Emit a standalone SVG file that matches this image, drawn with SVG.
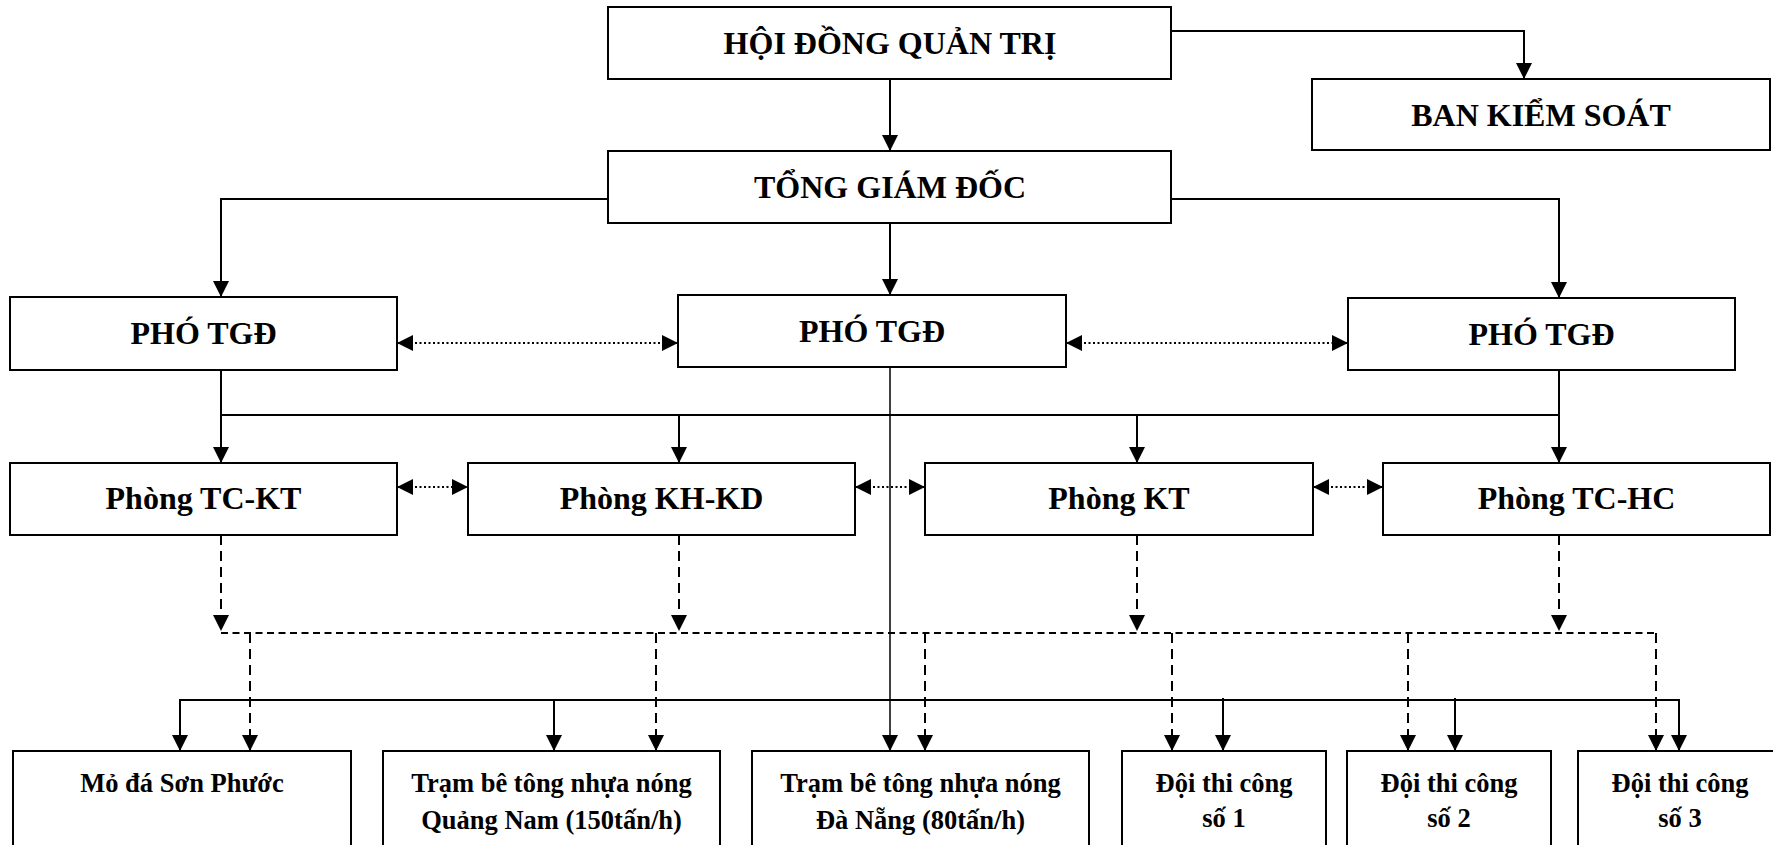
<svg xmlns="http://www.w3.org/2000/svg" width="1773" height="845" viewBox="0 0 1773 845">
  <defs>
    <marker id="arrow" viewBox="0 0 16 16" refX="16" refY="8" markerWidth="16" markerHeight="16" markerUnits="userSpaceOnUse" orient="auto-start-reverse">
      <path d="M0,0 L16,8 L0,16 Z" fill="#000"/>
    </marker>
    <style>
      .box { fill: #fff; stroke: #000; stroke-width: 2; }
      .big { font-family: "Liberation Serif", "Times New Roman", serif; font-weight: bold; font-size: 32px; text-anchor: middle; fill: #000; }
      .small { font-family: "Liberation Serif", "Times New Roman", serif; font-weight: bold; font-size: 26.5px; text-anchor: middle; fill: #000; }
      .solid { fill: none; stroke: #000; stroke-width: 2; }
      .thin { fill: none; stroke: #000; stroke-width: 1.5; }
      .dotted { fill: none; stroke: #000; stroke-width: 2; stroke-dasharray: 2 2.5; }
      .dashv { fill: none; stroke: #000; stroke-width: 2; stroke-dasharray: 10 6; }
      .dashh { fill: none; stroke: #000; stroke-width: 2; stroke-dasharray: 7 4.5; }
    </style>
  </defs>
  <rect width="1773" height="845" fill="#fff"/>

  <!-- connectors -->
  <g id="connectors">
    <!-- board to CEO and supervisory board -->
    <path class="solid" d="M890,79 V151" marker-end="url(#arrow)"/>
    <path class="solid" d="M1171,31 H1524 V79" marker-end="url(#arrow)"/>
    <!-- CEO to deputies -->
    <path class="solid" d="M608,199 H221 V297" marker-end="url(#arrow)"/>
    <path class="solid" d="M890,223 V295" marker-end="url(#arrow)"/>
    <path class="solid" d="M1171,199 H1559 V298" marker-end="url(#arrow)"/>
    <!-- coordination between deputies -->
    <path class="dotted" d="M397,343 H678" marker-start="url(#arrow)" marker-end="url(#arrow)"/>
    <path class="dotted" d="M1066,343 H1348" marker-start="url(#arrow)" marker-end="url(#arrow)"/>
    <!-- deputies to departments -->
    <path class="solid" d="M221,370 V415 H1559 V370"/>
    <path class="solid" d="M221,415 V463" marker-end="url(#arrow)"/>
    <path class="solid" d="M679,415 V463" marker-end="url(#arrow)"/>
    <path class="solid" d="M1137,415 V463" marker-end="url(#arrow)"/>
    <path class="solid" d="M1559,415 V463" marker-end="url(#arrow)"/>
    <!-- coordination between departments -->
    <path class="dotted" d="M397,487 H468" marker-start="url(#arrow)" marker-end="url(#arrow)"/>
    <path class="dotted" d="M855,487 H925" marker-start="url(#arrow)" marker-end="url(#arrow)"/>
    <path class="dotted" d="M1313,487 H1383" marker-start="url(#arrow)" marker-end="url(#arrow)"/>
    <!-- departments to the dashed guidance bus -->
    <path class="dashv" d="M221,535 V631" marker-end="url(#arrow)"/>
    <path class="dashv" d="M679,535 V631" marker-end="url(#arrow)"/>
    <path class="dashv" d="M1137,535 V631" marker-end="url(#arrow)"/>
    <path class="dashv" d="M1559,535 V631" marker-end="url(#arrow)"/>
    <path class="dashh" d="M221,633 H1656"/>
    <path class="dashv" d="M250,633 V751" marker-end="url(#arrow)"/>
    <path class="dashv" d="M656,633 V751" marker-end="url(#arrow)"/>
    <path class="dashv" d="M925,633 V751" marker-end="url(#arrow)"/>
    <path class="dashv" d="M1172,633 V751" marker-end="url(#arrow)"/>
    <path class="dashv" d="M1408,633 V751" marker-end="url(#arrow)"/>
    <path class="dashv" d="M1656,633 V751" marker-end="url(#arrow)"/>
    <!-- deputy line down to the production units -->
    <path class="thin" d="M890,367 V751" marker-end="url(#arrow)"/>
    <path class="solid" d="M180,751 V700 H1679 V751" marker-start="url(#arrow)" marker-end="url(#arrow)"/>
    <path class="solid" d="M554,700 V751" marker-end="url(#arrow)"/>
    <path class="solid" d="M1223,698 V751" marker-end="url(#arrow)"/>
    <path class="solid" d="M1455,698 V751" marker-end="url(#arrow)"/>
  </g>

  <!-- top management -->
  <g id="hdqt">
    <rect class="box" x="608" y="7" width="563" height="72"/>
    <text class="big" x="890" y="54">HỘI ĐỒNG QUẢN TRỊ</text>
  </g>
  <g id="bks">
    <rect class="box" x="1312" y="79" width="458" height="71"/>
    <text class="big" x="1541" y="126">BAN KIỂM SOÁT</text>
  </g>
  <g id="tgd">
    <rect class="box" x="608" y="151" width="563" height="72"/>
    <text class="big" x="890" y="198">TỔNG GIÁM ĐỐC</text>
  </g>

  <!-- deputies -->
  <g id="pho-tgd-1">
    <rect class="box" x="10" y="297" width="387" height="73"/>
    <text class="big" x="203.5" y="344">PHÓ TGĐ</text>
  </g>
  <g id="pho-tgd-2">
    <rect class="box" x="678" y="295" width="388" height="72"/>
    <text class="big" x="872" y="342">PHÓ TGĐ</text>
  </g>
  <g id="pho-tgd-3">
    <rect class="box" x="1348" y="298" width="387" height="72"/>
    <text class="big" x="1541.5" y="345">PHÓ TGĐ</text>
  </g>

  <!-- departments -->
  <g id="phong-tckt">
    <rect class="box" x="10" y="463" width="387" height="72"/>
    <text class="big" x="203.5" y="509">Phòng TC-KT</text>
  </g>
  <g id="phong-khkd">
    <rect class="box" x="468" y="463" width="387" height="72"/>
    <text class="big" x="661.5" y="509">Phòng KH-KD</text>
  </g>
  <g id="phong-kt">
    <rect class="box" x="925" y="463" width="388" height="72"/>
    <text class="big" x="1119" y="509">Phòng KT</text>
  </g>
  <g id="phong-tchc">
    <rect class="box" x="1383" y="463" width="387" height="72"/>
    <text class="big" x="1576.5" y="509">Phòng TC-HC</text>
  </g>

  <!-- production units -->
  <g id="mo-da">
    <rect class="box" x="13" y="751" width="338" height="120"/>
    <text class="small" x="182" y="792">Mỏ đá Sơn Phước</text>
  </g>
  <g id="tram-qn">
    <rect class="box" x="383" y="751" width="337" height="120"/>
    <text class="small" x="551.5" y="792">Trạm bê tông nhựa nóng</text>
    <text class="small" x="551.5" y="829">Quảng Nam (150tấn/h)</text>
  </g>
  <g id="tram-dn">
    <rect class="box" x="752" y="751" width="337" height="120"/>
    <text class="small" x="920.5" y="792">Trạm bê tông nhựa nóng</text>
    <text class="small" x="920.5" y="829">Đà Nẵng (80tấn/h)</text>
  </g>
  <g id="doi-1">
    <rect class="box" x="1122" y="751" width="204" height="120"/>
    <text class="small" x="1224" y="792">Đội thi công</text>
    <text class="small" x="1224" y="827">số 1</text>
  </g>
  <g id="doi-2">
    <rect class="box" x="1347" y="751" width="204" height="120"/>
    <text class="small" x="1449" y="792">Đội thi công</text>
    <text class="small" x="1449" y="827">số 2</text>
  </g>
  <g id="doi-3">
    <rect class="box" x="1578" y="751" width="204" height="120"/>
    <text class="small" x="1680" y="792">Đội thi công</text>
    <text class="small" x="1680" y="827">số 3</text>
  </g>
</svg>
